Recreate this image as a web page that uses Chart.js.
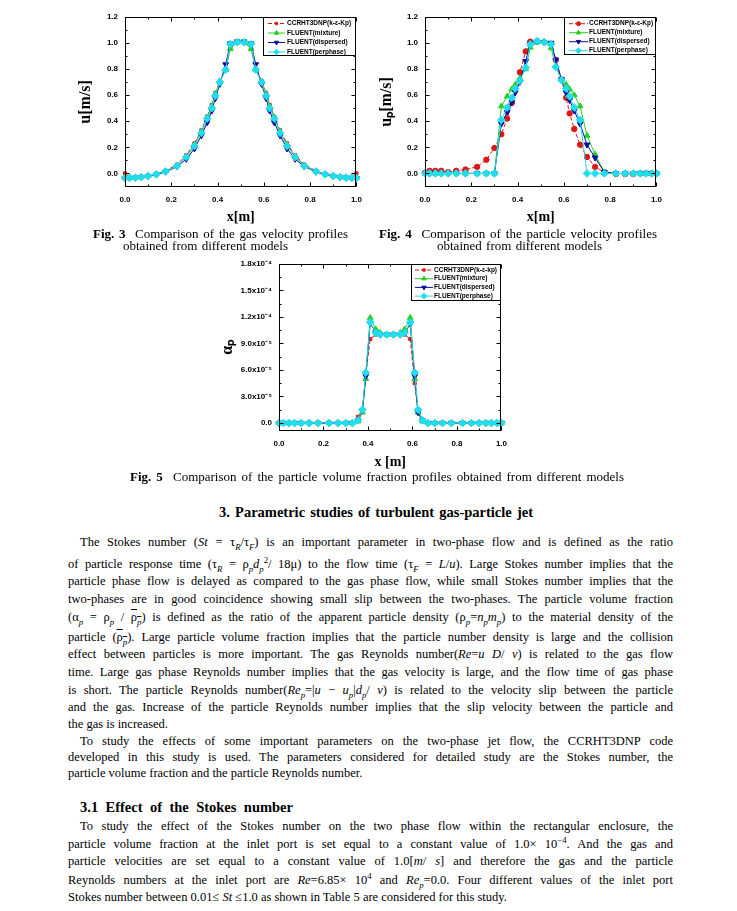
<!DOCTYPE html>
<html><head><meta charset="utf-8">
<script src="https://cdn.jsdelivr.net/npm/chart.js@4.4.0/dist/chart.umd.min.js"></script>
<style>
html,body{margin:0;padding:0;background:#fff;}
body{width:737px;height:911px;position:relative;overflow:hidden;font-family:'Liberation Serif','Times New Roman',serif;color:#000;}
canvas{position:absolute;}
.ln{position:absolute;font-family:'Liberation Serif','Times New Roman',serif;font-size:12.5px;line-height:16px;height:16px;text-align:justify;text-align-last:justify;}
.ln.last{text-align:left;text-align-last:left;}
.cap{position:absolute;font-size:13px;line-height:14px;height:14px;text-align:justify;text-align-last:justify;}
.hd{position:absolute;font-weight:bold;font-size:14.5px;line-height:18px;text-align:justify;text-align-last:justify;}
sub,sup{font-size:70%;line-height:0;}
.ov{text-decoration:overline;}
</style>
</head><body>
<canvas id="c1" width="300" height="222" style="left:70px;top:5px"></canvas>
<canvas id="c2" width="300" height="222" style="left:370px;top:5px"></canvas>
<canvas id="c3" width="300" height="220" style="left:215px;top:252px"></canvas>

<div class="cap" style="left:93px;top:227px;width:255px"><b>Fig. 3</b>&nbsp; Comparison of the gas velocity profiles</div>
<div class="cap" style="left:123px;top:239px;width:165px">obtained from different models</div>
<div class="cap" style="left:379px;top:227px;width:278px"><b>Fig. 4</b>&nbsp; Comparison of the particle velocity profiles</div>
<div class="cap" style="left:437px;top:239px;width:165px">obtained from different models</div>
<div class="cap" style="left:130px;top:470px;width:494px"><b>Fig. 5</b>&nbsp; Comparison of the particle volume fraction profiles obtained from different models</div>

<div class="hd" style="left:219px;top:503px;width:314px">3. Parametric studies of turbulent gas-particle jet</div>

<div class="ln" style="left:80px;top:534px;width:593px">The Stokes number (<i>St</i> = τ<sub><i>R</i></sub>/τ<sub><i>F</i></sub>) is an important parameter in two-phase flow and is defined as the ratio</div>
<div class="ln" style="left:68px;top:556px;width:605px">of particle response time (τ<sub><i>R</i></sub> = ρ<sub><i>p</i></sub><i>d</i><sub><i>p</i></sub><sup>2</sup>/ 18μ) to the flow time (τ<sub><i>F</i></sub> = <i>L</i>/<i>u</i>). Large Stokes number implies that the</div>
<div class="ln" style="left:68px;top:573px;width:605px">particle phase flow is delayed as compared to the gas phase flow, while small Stokes number implies that the</div>
<div class="ln" style="left:68px;top:591px;width:605px">two-phases are in good coincidence showing small slip between the two-phases. The particle volume fraction</div>
<div class="ln" style="left:68px;top:609px;width:605px">(α<sub><i>p</i></sub> = ρ<sub><i>p</i></sub> / <span class="ov">ρ<sub><i>p</i></sub></span>) is defined as the ratio of the apparent particle density (ρ<sub><i>p</i></sub>=<i>n</i><sub><i>p</i></sub><i>m</i><sub><i>p</i></sub>) to the material density of the</div>
<div class="ln" style="left:68px;top:629px;width:605px">particle (<span class="ov">ρ<sub><i>p</i></sub></span>). Large particle volume fraction implies that the particle number density is large and the collision</div>
<div class="ln" style="left:68px;top:646px;width:605px">effect between particles is more important. The gas Reynolds number(<i>Re</i>=<i>u D</i>/ <i>ν</i>) is related to the gas flow</div>
<div class="ln" style="left:68px;top:664px;width:605px">time. Large gas phase Reynolds number implies that the gas velocity is large, and the flow time of gas phase</div>
<div class="ln" style="left:68px;top:682px;width:605px">is short. The particle Reynolds number(<i>Re</i><sub><i>p</i></sub>=|<i>u</i> − <i>u</i><sub><i>p</i></sub>|<i>d</i><sub><i>p</i></sub>/ <i>ν</i>) is related to the velocity slip between the particle</div>
<div class="ln" style="left:68px;top:699px;width:605px">and the gas. Increase of the particle Reynolds number implies that the slip velocity between the particle and</div>
<div class="ln last" style="left:68px;top:716px;width:605px">the gas is increased.</div>
<div class="ln" style="left:80px;top:733px;width:593px">To study the effects of some important parameters on the two-phase jet flow, the CCRHT3DNP code</div>
<div class="ln" style="left:68px;top:749px;width:605px">developed in this study is used. The parameters considered for detailed study are the Stokes number, the</div>
<div class="ln last" style="left:68px;top:765px;width:605px">particle volume fraction and the particle Reynolds number.</div>

<div class="hd" style="left:80px;top:798px;width:213px">3.1 Effect of the Stokes number</div>

<div class="ln" style="left:80px;top:818px;width:593px">To study the effect of the Stokes number on the two phase flow within the rectangular enclosure, the</div>
<div class="ln" style="left:68px;top:836px;width:605px">particle volume fraction at the inlet port is set equal to a constant value of 1.0× 10<sup>−4</sup>. And the gas and</div>
<div class="ln" style="left:68px;top:853px;width:605px">particle velocities are set equal to a constant value of 1.0[<i>m</i>/ <i>s</i>] and therefore the gas and the particle</div>
<div class="ln" style="left:68px;top:872px;width:605px">Reynolds numbers at the inlet port are <i>Re</i>=6.85× 10<sup>4</sup> and <i>Re</i><sub><i>p</i></sub>=0.0. Four different values of the inlet port</div>
<div class="ln last" style="left:68px;top:889px;width:605px">Stokes number between 0.01≤ <i>St</i> ≤1.0 as shown in Table 5 are considered for this study.</div>

<script>
// ---------------- DATA ----------------
const X_GRID = [0.0,0.02,0.045,0.07,0.10,0.135,0.175,0.225,0.265,0.30,0.33,0.355,0.375,0.39,0.41,0.435,0.455,0.485,0.515,0.545,0.565,0.59,0.61,0.625,0.645,0.67,0.70,0.735,0.775,0.825,0.865,0.90,0.93,0.955,0.98,1.0];

// Fig. 3 gas velocity u [m/s]
const GAS_CCRHT = [0.0,-0.03,-0.03,-0.025,-0.018,-0.005,0.02,0.068,0.14,0.23,0.33,0.435,0.525,0.615,0.71,0.80,0.955,1.005,1.005,0.955,0.80,0.71,0.615,0.525,0.435,0.33,0.23,0.14,0.068,0.02,-0.005,-0.018,-0.025,-0.03,-0.03,0.0];
const GAS_MIXTURE = [-0.035,-0.033,-0.032,-0.028,-0.02,-0.006,0.017,0.062,0.13,0.22,0.32,0.43,0.515,0.61,0.70,0.795,0.955,1.005,1.005,0.955,0.795,0.70,0.61,0.515,0.43,0.32,0.22,0.13,0.062,0.017,-0.006,-0.02,-0.028,-0.032,-0.033,-0.035];
const GAS_DISPERSED = [-0.037,-0.035,-0.034,-0.03,-0.022,-0.01,0.012,0.052,0.11,0.19,0.29,0.39,0.48,0.575,0.685,0.835,0.995,1.01,1.01,0.995,0.835,0.685,0.575,0.48,0.39,0.29,0.19,0.11,0.052,0.012,-0.01,-0.022,-0.03,-0.034,-0.035,-0.037];
const GAS_PERPHASE = [-0.035,-0.033,-0.032,-0.028,-0.02,-0.007,0.015,0.057,0.125,0.21,0.31,0.42,0.50,0.595,0.70,0.795,0.99,1.005,1.005,0.99,0.795,0.70,0.595,0.50,0.42,0.31,0.21,0.125,0.057,0.015,-0.007,-0.02,-0.028,-0.032,-0.033,-0.035];

// Fig. 4 particle velocity up [m/s]
const PART_CCRHT = [0.005,0.02,0.02,0.02,0.01,0.02,0.03,0.05,0.105,0.195,0.30,0.42,0.54,0.65,0.775,0.935,1.01,1.01,1.005,0.99,0.87,0.72,0.58,0.46,0.34,0.22,0.126,0.05,0.01,-0.005,-0.005,-0.005,0.0,0.0,0.0,0.0];
const PART_MIXTURE = [0,0,0,0,0,0,0,0,0,0,0.515,0.59,0.645,0.68,0.73,0.80,0.965,1.005,1.01,0.96,0.82,0.72,0.68,0.645,0.60,0.515,0.29,0.145,0.01,0,0,0,0,0,0,0];
const PART_DISPERSED = [0,0,0,0,0,0,0,0,0,0,0.38,0.47,0.545,0.62,0.70,0.86,0.995,1.01,1.005,1.0,0.87,0.72,0.62,0.56,0.48,0.38,0.22,0.12,0.01,0,0,0,0,0,0,0];
const PART_PERPHASE = [0,0,0,0,0,0,0,0,0,0,0.41,0.505,0.58,0.65,0.71,0.81,0.99,1.015,1.005,0.99,0.815,0.715,0.65,0.59,0.505,0.41,0,0,0,0,0,0,0,0,0,0];

// Fig. 5 particle volume fraction alpha_p
const VF_CCRHT = [0,0,0,0,0,0,0,0,0,0,0,0.07e-4,0.15e-4,0.55e-4,0.95e-4,1.0e-4,1.0e-4,1.0e-4,1.0e-4,1.0e-4,1.0e-4,0.95e-4,0.45e-4,0.13e-4,0.04e-4,0,0,0,0,0,0,0,0,0,0,0];
const VF_MIXTURE = [0,0,0,0,0,0,0,0,0,0,0,0.02e-4,0.12e-4,0.50e-4,1.19e-4,1.06e-4,1.02e-4,1.0e-4,1.0e-4,1.02e-4,1.06e-4,1.19e-4,0.50e-4,0.12e-4,0.02e-4,0,0,0,0,0,0,0,0,0,0,0];
const VF_DISPERSED = [0,0,0,0,0,0,0,0,0,0,0,0.03e-4,0.14e-4,0.53e-4,1.13e-4,1.02e-4,1.0e-4,1.0e-4,1.0e-4,1.0e-4,1.02e-4,1.12e-4,0.53e-4,0.12e-4,0.03e-4,0,0,0,0,0,0,0,0,0,0,0];
const VF_PERPHASE = [0,0,0,0,0,0,0,0,0,0,0,0.03e-4,0.15e-4,0.57e-4,1.14e-4,1.02e-4,1.0e-4,1.0e-4,1.0e-4,1.0e-4,1.02e-4,1.14e-4,0.57e-4,0.15e-4,0.03e-4,0,0,0,0,0,0,0,0,0,0,0];

const NAMES_A = ['CCRHT3DNP(k-ε-Kp)','FLUENT(mixture)','FLUENT(dispersed)','FLUENT(perphase)'];
const NAMES_B = ['CCRHT3DNP(k-ε-kp)','FLUENT(mixture)','FLUENT(dispersed)','FLUENT(perphase)'];

const X_TICKS = [0,0.2,0.4,0.6,0.8,1.0];
const U_TICKS = [0,0.2,0.4,0.6,0.8,1.0,1.2];
const VF_TICKS = [0,3e-5,6e-5,9e-5,1.2e-4,1.5e-4,1.8e-4];
const VF_TICK_LABELS = ['0.0','3.0x10⁻⁵','6.0x10⁻⁵','9.0x10⁻⁵','1.2x10⁻⁴','1.5x10⁻⁴','1.8x10⁻⁴'];

// ---------------- STYLE ----------------
const COLORS = ['#e01515','#22d022','#0a0aa0','#22dded'];
const DASHES = [[4,2],[],[],[]];
const ROTS = [0,0,180,0];
const TICK_FONT = {family:"'Liberation Sans', Arial, sans-serif", size:8, weight:'bold'};

const frameTicks = {
  id:'frameTicks',
  afterDatasetsDraw(chart, args, o){
    const {ctx, chartArea:a} = chart;
    const sx = chart.scales.x, sy = chart.scales.y;
    ctx.save();
    ctx.strokeStyle = '#000'; ctx.lineWidth = 1; ctx.setLineDash([]);
    ctx.strokeRect(Math.round(a.left)+0.5, Math.round(a.top)+0.5, Math.round(a.width)-1, Math.round(a.height)-1);
    const L = Math.round(a.left)+0.5, R = Math.round(a.right)-0.5, T = Math.round(a.top)+0.5, B = Math.round(a.bottom)-0.5;
    ctx.beginPath();
    const xt = (v,len)=>{ const p = Math.round(sx.getPixelForValue(v))+0.5; ctx.moveTo(p,B); ctx.lineTo(p,B-len); ctx.moveTo(p,T); ctx.lineTo(p,T+len); };
    const yt = (v,len)=>{ const p = Math.round(sy.getPixelForValue(v))+0.5; ctx.moveTo(L,p); ctx.lineTo(L+len,p); ctx.moveTo(R,p); ctx.lineTo(R-len,p); };
    o.xMajor.forEach((v,i)=>{ xt(v,4); if(i<o.xMajor.length-1) xt((v+o.xMajor[i+1])/2,2); });
    o.yMajor.forEach((v,i)=>{ yt(v,4); if(i<o.yMajor.length-1) yt((v+o.yMajor[i+1])/2,2); });
    ctx.stroke();
    ctx.restore();
  }
};

const insideLegend = {
  id:'insideLegend',
  afterDraw(chart, args, o){
    const ctx = chart.ctx, a = chart.chartArea;
    const x0 = Math.round(a.right - o.w), y0 = Math.round(a.top);
    ctx.save();
    ctx.fillStyle = '#fff'; ctx.fillRect(x0, y0, o.w, o.h);
    ctx.strokeStyle = '#000'; ctx.lineWidth = 1; ctx.strokeRect(x0+0.5, y0+0.5, o.w-1, o.h-1);
    chart.data.datasets.forEach((ds,i)=>{
      const yy = y0 + o.row0 + i*o.rowH;
      ctx.strokeStyle = ds.borderColor; ctx.lineWidth = 1; ctx.setLineDash(ds.borderDash||[]);
      ctx.beginPath(); ctx.moveTo(x0+o.sx0, yy); ctx.lineTo(x0+o.sx1, yy); ctx.stroke();
      ctx.setLineDash([]);
      ctx.fillStyle = ds.backgroundColor; ctx.strokeStyle = ds.borderColor;
      Chart.helpers.drawPoint(ctx, {pointStyle: ds.pointStyle, radius: ds.pointRadius*0.75, rotation: ds.pointRotation||0, borderWidth:1}, x0+(o.sx0+o.sx1)/2, yy);
      ctx.fillStyle = '#000'; ctx.font = o.font; ctx.textBaseline = 'middle'; ctx.textAlign = 'left';
      ctx.fillText(ds.label, x0+o.tx, yy);
    });
    ctx.restore();
  }
};

function pts(xs, ys){ return xs.map((x,i)=>({x:x, y:ys[i]})); }

function makeChart(id, c){
  return new Chart(document.getElementById(id), {
    type:'scatter',
    data:{ datasets: c.sets.map((s,i)=>({
      label:c.names[i], data:pts(X_GRID, s), showLine:true, tension:0,
      borderColor:COLORS[i], backgroundColor:COLORS[i], borderWidth:1, borderDash:DASHES[i],
      pointStyle:c.markers[i], pointRadius:c.radii[i], pointRotation:ROTS[i], pointBorderWidth:1,
      pointHoverRadius:c.radii[i], order:4-i, clip:false
    }))},
    options:{
      responsive:false, animation:false, events:[],
      layout:{padding:c.pad},
      plugins:{ legend:{display:false}, tooltip:{enabled:false},
        frameTicks:{xMajor:X_TICKS, yMajor:c.yTicks},
        insideLegend:c.legend },
      scales:{
        x:{ type:'linear', min:0, max:1, grid:{display:false, drawTicks:false, tickLength:0}, border:{display:false},
          afterBuildTicks:s=>{ s.ticks = X_TICKS.map(v=>({value:v})); },
          afterFit:s=>{ s.height = c.xh; },
          ticks:{ padding:c.xtp, color:'#000', font:TICK_FONT, maxRotation:0, autoSkip:false, callback:v=>Number(v).toFixed(1) },
          title:{ display:true, text:c.xTitle, color:'#000', font:{family:"'Liberation Serif', serif", size:14, weight:'bold'}, padding:{top:0,bottom:c.xTitlePad} } },
        y:{ type:'linear', min:c.yMin, max:c.yMax, grid:{display:false, drawTicks:false, tickLength:0}, border:{display:false},
          afterBuildTicks:s=>{ s.ticks = c.yTicks.map(v=>({value:v})); },
          afterFit:s=>{ s.width = c.yw; },
          ticks:{ padding:c.ytp, color:'#000', font:TICK_FONT, autoSkip:false, callback:c.yLabel },
          title:{ display:true, text:c.yTitle, color:'#000', font:{family:"'Liberation Serif', serif", size:c.yTitleSize, weight:'bold'}, padding:{top:c.yTitlePad,bottom:0} } }
      }
    },
    plugins:[frameTicks, insideLegend]
  });
}

const LEG_FONT = "bold 6.5px 'Liberation Sans', Arial, sans-serif";

makeChart('c1', {
  sets:[GAS_CCRHT, GAS_MIXTURE, GAS_DISPERSED, GAS_PERPHASE], names:NAMES_A,
  markers:['rect','triangle','triangle','rectRot'], radii:[2.2,3.3,3.3,3.8],
  pad:{top:10,right:8,left:0,bottom:0}, xh:40, xtp:8, ytp:7, yw:55,
  xTitle:'x[m]', xTitlePad:1, yTitle:'u[m/s]', yTitleSize:16, yTitlePad:6,
  yMin:-0.104, yMax:1.2, yTicks:U_TICKS, yLabel:v=>Number(v).toFixed(1),
  legend:{w:93, h:39, row0:6.5, rowH:9.5, sx0:5, sx1:22, tx:24, font:LEG_FONT}
});

makeChart('c2', {
  sets:[PART_CCRHT, PART_MIXTURE, PART_DISPERSED, PART_PERPHASE], names:NAMES_A,
  markers:['circle','triangle','triangle','rectRot'], radii:[2.7,3.3,3.3,3.8],
  pad:{top:10,right:10,left:0,bottom:0}, xh:40, xtp:8, ytp:7, yw:55,
  xTitle:'x[m]', xTitlePad:1, yTitle:'uₚ[m/s]', yTitleSize:16, yTitlePad:7,
  yMin:-0.104, yMax:1.2, yTicks:U_TICKS, yLabel:v=>Number(v).toFixed(1),
  legend:{w:92, h:38, row0:6.7, rowH:9, sx0:5, sx1:24, tx:25, font:LEG_FONT}
});

makeChart('c3', {
  sets:[VF_CCRHT, VF_MIXTURE, VF_DISPERSED, VF_PERPHASE], names:NAMES_B,
  markers:['rect','triangle','triangle','rectRot'], radii:[2.2,3.3,3.3,3.8],
  pad:{top:10,right:7,left:0,bottom:0}, xh:41, xtp:8, ytp:7, yw:64,
  xTitle:'x [m]', xTitlePad:1, yTitle:'αₚ', yTitleSize:16, yTitlePad:3,
  yMin:-0.09e-4, yMax:1.8e-4, yTicks:VF_TICKS, yLabel:(v,i)=>VF_TICK_LABELS[i],
  legend:{w:90, h:37, row0:6, rowH:8.7, sx0:4, sx1:22, tx:23, font:LEG_FONT}
});
</script>
</body></html>
